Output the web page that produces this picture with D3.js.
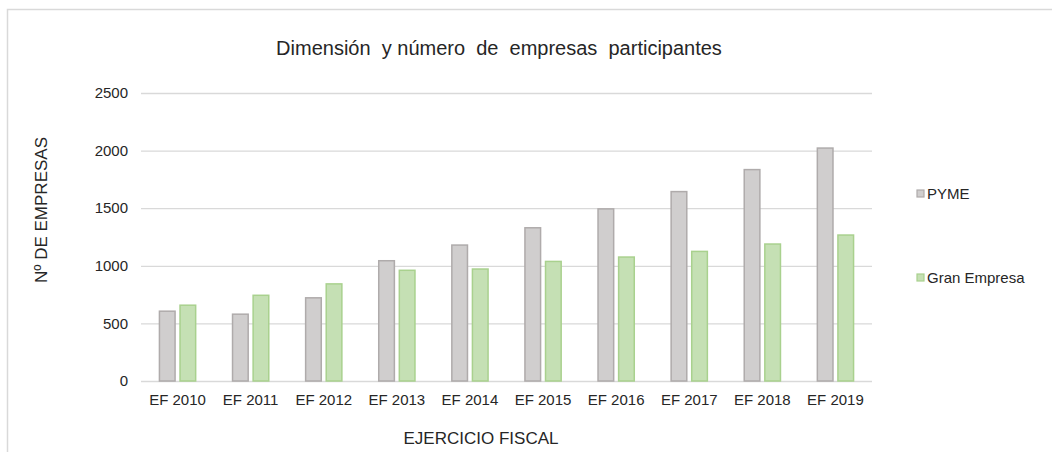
<!DOCTYPE html>
<html>
<head>
<meta charset="utf-8">
<script src="https://cdn.jsdelivr.net/npm/d3@7"></script>
<style>
  body { margin: 0; background: #fff; }
  text { font-family: Arial, "Liberation Sans", sans-serif; fill: #262626; }
</style>
</head>
<body>
<script>
// datos
var ejercicios = ["EF 2010", "EF 2011", "EF 2012", "EF 2013", "EF 2014",
                  "EF 2015", "EF 2016", "EF 2017", "EF 2018", "EF 2019"];
var pyme = [606, 580, 722, 1044, 1180, 1330, 1494, 1644, 1835, 2022];
var granEmpresa = [658, 744, 843, 961, 972, 1038, 1076, 1125, 1189, 1267];
var series = ["PYME", "Gran Empresa"];
var yTicks = [0, 500, 1000, 1500, 2000, 2500];

var W = 1052, H = 452;
var margin = {top: 93, right: 180, bottom: 71, left: 141};
var width = 872 - margin.left;
var height = 381 - margin.top;

var colores = {
    "PYME": {fill: "#d0cece", stroke: "#afabab"},
    "Gran Empresa": {fill: "#c5e0b4", stroke: "#a9d18e"}
};

var svg = d3.select("body").append("svg")
    .attr("width", W)
    .attr("height", H);

// marco
svg.append("rect")
    .attr("x", 7.5).attr("y", 9.5)
    .attr("width", W + 10).attr("height", H + 10)
    .attr("fill", "none")
    .attr("stroke", "#d9d9d9")
    .attr("stroke-width", 1.5);

var g = svg.append("g")
    .attr("transform", "translate(" + margin.left + "," + margin.top + ")");

var x = d3.scaleBand().domain(ejercicios).range([0, width]);
var x1 = d3.scaleBand().domain(series).range([-21, 21]).paddingInner(0.24).paddingOuter(0.14);
var y = d3.scaleLinear().domain([0, 2500]).range([height, 0]);

// lineas de cuadricula
g.selectAll(".grid")
    .data(yTicks)
    .enter()
    .append("line")
    .attr("class", "grid")
    .attr("x1", 0).attr("x2", width)
    .attr("y1", function (d) { return y(d) + 0.5; })
    .attr("y2", function (d) { return y(d) + 0.5; })
    .attr("stroke", "#d9d9d9")
    .attr("stroke-width", 1.3);

// etiquetas eje y
g.selectAll(".ytick")
    .data(yTicks)
    .enter()
    .append("text")
    .attr("class", "ytick")
    .attr("x", -13)
    .attr("y", function (d) { return y(d); })
    .attr("dy", "0.35em")
    .attr("text-anchor", "end")
    .style("font-size", "15px")
    .text(function (d) { return d; });

// barras
var grupos = g.selectAll(".grupo")
    .data(ejercicios)
    .enter()
    .append("g")
    .attr("class", "grupo")
    .attr("transform", function (d) { return "translate(" + (x(d) + x.bandwidth() / 2) + ",0)"; });

grupos.selectAll("rect")
    .data(function (d, i) {
        return [{s: "PYME", v: pyme[i]}, {s: "Gran Empresa", v: granEmpresa[i]}];
    })
    .enter()
    .append("rect")
    .attr("x", function (d) { return x1(d.s); })
    .attr("y", function (d) { return y(d.v); })
    .attr("width", x1.bandwidth())
    .attr("height", function (d) { return height - y(d.v); })
    .attr("fill", function (d) { return colores[d.s].fill; })
    .attr("stroke", function (d) { return colores[d.s].stroke; })
    .attr("stroke-width", 1.5);

// etiquetas eje x
g.selectAll(".xtick")
    .data(ejercicios)
    .enter()
    .append("text")
    .attr("class", "xtick")
    .attr("x", function (d) { return x(d) + x.bandwidth() / 2; })
    .attr("y", height + 24)
    .attr("text-anchor", "middle")
    .style("font-size", "15px")
    .text(function (d) { return d; });

// titulo
svg.append("text")
    .attr("x", 499)
    .attr("y", 55)
    .attr("text-anchor", "middle")
    .style("font-size", "20px")
    .style("white-space", "pre")
    .attr("xml:space", "preserve")
    .text("Dimensión  y número  de  empresas  participantes");

// titulos de ejes
svg.append("text")
    .attr("x", 481)
    .attr("y", 444)
    .attr("text-anchor", "middle")
    .style("font-size", "17px")
    .text("EJERCICIO FISCAL");

svg.append("text")
    .attr("transform", "translate(47,210) rotate(-90)")
    .attr("text-anchor", "middle")
    .style("font-size", "17px")
    .text("Nº DE EMPRESAS");

// leyenda
var leyenda = svg.selectAll(".leyenda")
    .data(series)
    .enter()
    .append("g")
    .attr("class", "leyenda")
    .attr("transform", function (d, i) { return "translate(917," + (194 + i * 84) + ")"; });

leyenda.append("rect")
    .attr("x", 0).attr("y", -4)
    .attr("width", 7).attr("height", 7)
    .attr("fill", function (d) { return colores[d].fill; })
    .attr("stroke", function (d) { return colores[d].stroke; })
    .attr("stroke-width", 1.2);

leyenda.append("text")
    .attr("x", 10)
    .attr("y", 0)
    .attr("dy", "0.35em")
    .style("font-size", "15px")
    .text(function (d) { return d; });
</script>
</body>
</html>
